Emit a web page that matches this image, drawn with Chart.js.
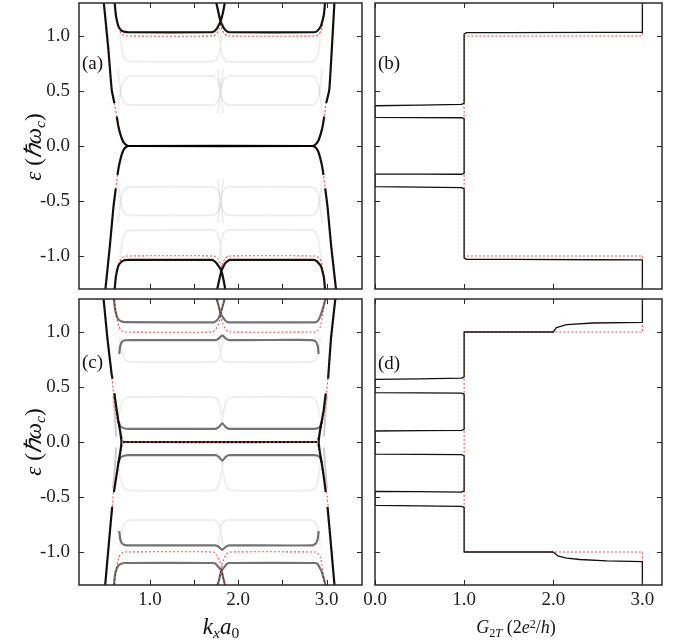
<!DOCTYPE html>
<html>
<head>
<meta charset="utf-8">
<script src="https://cdn.jsdelivr.net/npm/chart.js@4.4.0/dist/chart.umd.min.js"></script>
<style>
body { margin: 0; background: #fff; width: 676px; height: 642px; position: relative; overflow: hidden; font-family: "Liberation Serif", serif; color: #111; }
canvas { position: absolute; left: 0; top: 0; }
.lbl { position: absolute; font-size: 19px; line-height: 1; white-space: nowrap; }
.ttl { position: absolute; white-space: nowrap; line-height: 1; transform: translate(-50%, -50%); }
.rot { transform: translate(-50%, -50%) rotate(-90deg); }
sub { font-size: 68%; vertical-align: -0.3em; line-height: 0; }
sup { font-size: 68%; vertical-align: 0.45em; line-height: 0; }
</style>
</head>
<body>
<canvas id="pa" width="676" height="642"></canvas>
<canvas id="pb" width="676" height="642"></canvas>
<canvas id="pc" width="676" height="642"></canvas>
<canvas id="pd" width="676" height="642"></canvas>

<div class="lbl" style="left:82px;top:53px">(a)</div>
<div class="lbl" style="left:378px;top:53px">(b)</div>
<div class="lbl" style="left:82px;top:352px">(c)</div>
<div class="lbl" style="left:378px;top:353px">(d)</div>
<div class="ttl rot" style="left:33px;top:147px;font-size:23px"><i>ε</i> (<i>ℏω</i><sub><i>c</i></sub>)</div>
<div class="ttl rot" style="left:33px;top:442px;font-size:23px"><i>ε</i> (<i>ℏω</i><sub><i>c</i></sub>)</div>
<div class="ttl" style="left:221px;top:626px;font-size:23px"><i>k</i><sub><i>x</i></sub><i>a</i><sub>0</sub></div>
<div class="ttl" style="left:516px;top:627px;font-size:18px"><i>G</i><sub>2<i>T</i></sub> (2<i>e</i><sup>2</sup>/<i>h</i>)</div>

<script>
// ---- ticks ----
const kTicks = [1.0, 1.5, 2.0, 2.5, 3.0];
const gTicks = [0.0, 1.0, 2.0, 3.0];
const eTicks = [-1.0, -0.5, 0.0, 0.5, 1.0];

// ---- panel (a): bands, [k, energy], null = gap ----
const aEdgeUpper = [[0.477,1.33],[0.53,0.90],[0.57,0.51],[0.60,0.39],null,[0.627,0.267],[0.645,0.18],[0.665,0.115],[0.69,0.055],[0.72,0.018],[0.76,0.0],[2.84,0.0],[2.88,0.018],[2.91,0.055],[2.935,0.115],[2.955,0.18],[2.973,0.267],null,[2.995,0.39],[3.03,0.51],[3.06,0.90],[3.09,1.33]];
const aEdgeLower = [[0.495,-1.33],[0.55,-0.90],[0.59,-0.55],[0.616,-0.385],null,[0.635,-0.264],[0.652,-0.18],[0.672,-0.11],[0.695,-0.05],[0.72,-0.017],[0.76,0.0],[2.84,0.0],[2.88,-0.017],[2.905,-0.05],[2.928,-0.11],[2.948,-0.18],[2.965,-0.264],null,[2.984,-0.385],[3.01,-0.55],[3.05,-0.90],[3.11,-1.33]];
const aBandTop = [[0.60,1.33],[0.615,1.20],[0.627,1.145],[0.645,1.09],[0.665,1.063],[0.69,1.045],[0.72,1.037],[0.76,1.034],[1.70,1.034],[1.73,1.045],[1.76,1.07],[1.78,1.10],[1.80,1.13],[1.83,1.22],[1.855,1.33],null,[1.745,1.33],[1.775,1.22],[1.80,1.13],[1.82,1.10],[1.84,1.07],[1.87,1.045],[1.90,1.034],[2.85,1.034],[2.885,1.04],[2.91,1.06],[2.935,1.09],[2.955,1.145],[2.97,1.20],[2.985,1.33]];
const aBandBot = [[0.60,-1.33],[0.615,-1.20],[0.627,-1.145],[0.645,-1.09],[0.665,-1.065],[0.69,-1.047],[0.72,-1.038],[0.76,-1.036],[1.70,-1.036],[1.73,-1.047],[1.76,-1.07],[1.785,-1.10],[1.81,-1.136],[1.835,-1.22],[1.86,-1.33],null,[1.755,-1.33],[1.785,-1.22],[1.81,-1.136],[1.83,-1.10],[1.85,-1.07],[1.88,-1.047],[1.91,-1.036],[2.85,-1.036],[2.885,-1.045],[2.91,-1.065],[2.935,-1.09],[2.955,-1.145],[2.97,-1.20],[2.985,-1.33]];
const aIdealEdgeUpper = [[0.477,1.33],[0.57,0.51],[0.60,0.39],[0.627,0.267],[0.665,0.115],[0.72,0.018],[0.76,0.0],[2.84,0.0],[2.88,0.018],[2.935,0.115],[2.973,0.267],[2.995,0.39],[3.03,0.51],[3.09,1.33]];
const aIdealEdgeLower = [[0.495,-1.33],[0.59,-0.55],[0.616,-0.385],[0.635,-0.264],[0.672,-0.11],[0.72,-0.017],[0.76,0.0],[2.84,0.0],[2.88,-0.017],[2.928,-0.11],[2.965,-0.264],[2.984,-0.385],[3.01,-0.55],[3.11,-1.33]];
const aIdealTop = [[0.60,1.33],[0.627,1.145],[0.66,1.05],[0.69,1.015],[0.73,1.0],[1.72,1.0],[1.76,1.025],[1.785,1.065],[1.80,1.10],[1.83,1.22],[1.855,1.33],null,[1.745,1.33],[1.775,1.22],[1.80,1.10],[1.815,1.065],[1.84,1.025],[1.88,1.0],[2.87,1.0],[2.91,1.015],[2.94,1.05],[2.96,1.145],[2.985,1.33]];
const aIdealBot = [[0.60,-1.33],[0.627,-1.145],[0.66,-1.05],[0.69,-1.015],[0.73,-1.0],[1.73,-1.0],[1.77,-1.025],[1.795,-1.065],[1.81,-1.10],[1.835,-1.22],[1.86,-1.33],null,[1.755,-1.33],[1.785,-1.22],[1.81,-1.10],[1.825,-1.065],[1.85,-1.025],[1.89,-1.0],[2.87,-1.0],[2.91,-1.015],[2.94,-1.05],[2.96,-1.145],[2.985,-1.33]];
const aFaint37 = [[0.64,0.70],[0.67,0.50],[0.70,0.41],[0.74,0.38],[0.80,0.373],[1.70,0.373],[1.74,0.38],[1.77,0.41],[1.80,0.50],[1.83,0.70],null,[1.77,0.70],[1.80,0.50],[1.83,0.41],[1.86,0.38],[1.90,0.373],[2.82,0.373],[2.86,0.38],[2.89,0.41],[2.92,0.50],[2.95,0.70]];
const aFaint63 = [[0.64,0.30],[0.67,0.50],[0.70,0.59],[0.74,0.625],[0.80,0.636],[1.70,0.636],[1.74,0.625],[1.77,0.59],[1.80,0.50],[1.83,0.30],null,[1.77,0.30],[1.80,0.50],[1.83,0.59],[1.86,0.625],[1.90,0.636],[2.82,0.636],[2.86,0.625],[2.89,0.59],[2.92,0.50],[2.95,0.30]];
const aFaint77 = [[0.66,1.05],[0.69,0.86],[0.72,0.79],[0.76,0.77],[1.72,0.766],[1.76,0.79],[1.79,0.86],[1.82,1.05],null,[1.78,1.05],[1.81,0.86],[1.84,0.79],[1.88,0.766],[2.84,0.766],[2.88,0.79],[2.91,0.86],[2.94,1.05]];
const aFaintM37 = [[0.64,-0.70],[0.67,-0.50],[0.70,-0.41],[0.74,-0.38],[0.80,-0.372],[1.70,-0.372],[1.74,-0.38],[1.77,-0.41],[1.80,-0.50],[1.83,-0.70],null,[1.77,-0.70],[1.80,-0.50],[1.83,-0.41],[1.86,-0.38],[1.90,-0.372],[2.82,-0.372],[2.86,-0.38],[2.89,-0.41],[2.92,-0.50],[2.95,-0.70]];
const aFaintM63 = [[0.64,-0.30],[0.67,-0.50],[0.70,-0.59],[0.74,-0.62],[0.80,-0.63],[1.70,-0.63],[1.74,-0.62],[1.77,-0.59],[1.80,-0.50],[1.83,-0.30],null,[1.77,-0.30],[1.80,-0.50],[1.83,-0.59],[1.86,-0.62],[1.90,-0.63],[2.82,-0.63],[2.86,-0.62],[2.89,-0.59],[2.92,-0.50],[2.95,-0.30]];
const aFaintM77 = [[0.66,-1.05],[0.69,-0.86],[0.72,-0.79],[0.76,-0.768],[1.72,-0.764],[1.76,-0.79],[1.79,-0.86],[1.82,-1.05],null,[1.78,-1.05],[1.81,-0.86],[1.84,-0.79],[1.88,-0.764],[2.84,-0.764],[2.88,-0.79],[2.91,-0.86],[2.94,-1.05]];

// ---- panel (c) ----
const cEdgeLeft = [[0.477,1.31],[0.52,0.95],[0.57,0.61],[0.58,0.575],null,[0.60,0.443],[0.625,0.30],[0.645,0.19],[0.665,0.10],[0.68,0.0],[0.665,-0.10],[0.645,-0.19],[0.625,-0.30],[0.595,-0.455],null,[0.575,-0.59],[0.54,-0.90],[0.495,-1.31]];
const cEdgeRight = [[3.10,1.31],[3.05,0.95],[3.017,0.575],null,[2.99,0.443],[2.965,0.28],[2.945,0.19],[2.925,0.10],[2.91,0.0],[2.925,-0.10],[2.945,-0.19],[2.965,-0.30],[2.99,-0.455],null,[3.01,-0.59],[3.045,-0.90],[3.09,-1.31]];
const cZero = [[0.70,0.0],[2.89,0.0]];
const cBandP12 = [[0.645,0.19],[0.67,0.14],[0.71,0.125],[0.76,0.12],[1.74,0.12],[1.78,0.135],[1.82,0.17],[1.86,0.135],[1.90,0.12],[2.86,0.12],[2.90,0.125],[2.925,0.14],[2.945,0.19]];
const cBandM12 = [[0.645,-0.19],[0.67,-0.14],[0.71,-0.125],[0.76,-0.12],[1.74,-0.12],[1.78,-0.135],[1.82,-0.17],[1.86,-0.135],[1.90,-0.12],[2.86,-0.12],[2.90,-0.125],[2.925,-0.14],[2.945,-0.19]];
const cBandP93 = [[0.655,0.80],[0.665,0.87],[0.685,0.91],[0.72,0.925],[0.78,0.927],[1.74,0.927],[1.78,0.94],[1.82,0.97],[1.86,0.94],[1.90,0.927],[2.84,0.927],[2.88,0.91],[2.90,0.87],[2.91,0.80]];
const cBandM93 = [[0.655,-0.81],[0.665,-0.88],[0.685,-0.92],[0.72,-0.937],[0.78,-0.94],[1.74,-0.94],[1.78,-0.952],[1.82,-0.98],[1.86,-0.952],[1.90,-0.94],[2.84,-0.94],[2.88,-0.92],[2.90,-0.88],[2.91,-0.81]];
const cBandTop = [[0.59,1.33],[0.605,1.22],[0.618,1.17],[0.64,1.12],[0.67,1.10],[0.72,1.09],[1.72,1.088],[1.75,1.10],[1.78,1.13],[1.80,1.17],[1.83,1.25],[1.855,1.33],null,[1.745,1.33],[1.775,1.25],[1.80,1.17],[1.83,1.13],[1.86,1.10],[1.89,1.088],[2.866,1.088],[2.90,1.10],[2.92,1.13],[2.94,1.17],[2.97,1.25],[2.998,1.33]];
const cBandBot = [[0.59,-1.33],[0.605,-1.22],[0.618,-1.17],[0.64,-1.13],[0.67,-1.11],[0.72,-1.10],[1.72,-1.10],[1.75,-1.11],[1.78,-1.14],[1.81,-1.17],[1.835,-1.25],[1.86,-1.33],null,[1.755,-1.33],[1.785,-1.25],[1.81,-1.17],[1.84,-1.14],[1.87,-1.11],[1.90,-1.10],[2.866,-1.10],[2.90,-1.11],[2.92,-1.14],[2.94,-1.17],[2.97,-1.25],[2.998,-1.33]];
const cSide = [[0.585,0.42],[0.60,0.30],[0.612,0.15],[0.62,0.05],null,[0.62,-0.05],[0.612,-0.15],[0.60,-0.30],[0.585,-0.42],null,[3.005,0.42],[2.99,0.30],[2.978,0.15],[2.97,0.05],null,[2.97,-0.05],[2.978,-0.15],[2.99,-0.30],[3.005,-0.42]];
const cIdealEdgeUpper = [[0.477,1.31],[0.57,0.61],[0.59,0.443],[0.61,0.30],[0.627,0.215],[0.67,0.08],[0.72,0.0],[2.87,0.0],[2.92,0.08],[2.963,0.215],[2.98,0.30],[3.0,0.443],[3.017,0.61],[3.10,1.31]];
const cIdealEdgeLower = [[0.495,-1.31],[0.575,-0.61],[0.59,-0.455],[0.646,-0.227],[0.684,-0.045],[0.72,0.0],[2.87,0.0],[2.906,-0.045],[2.944,-0.227],[3.0,-0.455],[3.02,-0.61],[3.09,-1.31]];
const cIdealZero = [[0.72,0.0],[2.87,0.0]];
const cIdealTop = [[0.60,1.33],[0.62,1.16],[0.65,1.05],[0.68,1.012],[0.72,1.0],[1.71,1.0],[1.75,1.03],[1.78,1.08],[1.80,1.14],[1.83,1.25],[1.855,1.33],null,[1.745,1.33],[1.775,1.25],[1.80,1.14],[1.83,1.07],[1.86,1.02],[1.90,1.0],[2.87,1.0],[2.90,1.012],[2.93,1.05],[2.955,1.16],[2.985,1.33]];
const cIdealBot = [[0.60,-1.33],[0.62,-1.16],[0.65,-1.05],[0.68,-1.012],[0.72,-1.0],[1.72,-1.0],[1.76,-1.03],[1.79,-1.08],[1.81,-1.13],[1.835,-1.25],[1.86,-1.33],null,[1.755,-1.33],[1.785,-1.25],[1.81,-1.13],[1.835,-1.07],[1.865,-1.02],[1.90,-1.0],[2.87,-1.0],[2.90,-1.012],[2.93,-1.05],[2.955,-1.16],[2.985,-1.33]];
const cFaint73 = [[0.66,0.95],[0.69,0.80],[0.73,0.74],[0.78,0.727],[1.72,0.727],[1.77,0.74],[1.80,0.80],[1.83,0.95],null,[1.77,0.95],[1.80,0.80],[1.83,0.74],[1.88,0.727],[2.82,0.727],[2.87,0.74],[2.90,0.80],[2.93,0.95]];
const cFaint41 = [[0.64,0.20],[0.67,0.33],[0.71,0.39],[0.76,0.41],[1.72,0.41],[1.76,0.39],[1.80,0.30],[1.83,0.17],null,[1.81,0.17],[1.84,0.30],[1.88,0.39],[1.92,0.41],[2.82,0.41],[2.87,0.39],[2.90,0.33],[2.93,0.20]];
const cFaintM44 = [[0.64,-0.20],[0.67,-0.35],[0.71,-0.42],[0.76,-0.44],[1.72,-0.44],[1.76,-0.42],[1.80,-0.32],[1.83,-0.17],null,[1.81,-0.17],[1.84,-0.32],[1.88,-0.42],[1.92,-0.44],[2.82,-0.44],[2.87,-0.42],[2.90,-0.35],[2.93,-0.20]];
const cFaintM71 = [[0.66,-0.95],[0.69,-0.79],[0.73,-0.725],[0.78,-0.71],[1.72,-0.71],[1.77,-0.725],[1.80,-0.79],[1.83,-0.95],null,[1.77,-0.95],[1.80,-0.79],[1.83,-0.725],[1.88,-0.71],[2.82,-0.71],[2.87,-0.725],[2.90,-0.79],[2.93,-0.95]];

// ---- panels (b), (d): conductance, [G, energy] ----
const bCond = [[3,-1.35],[3,-1.036],[2.5,-1.034],[1.5,-1.031],[1.03,-1.03],[1,-1.02],[1,-0.39],[0.97,-0.379],[0.5,-0.374],[0,-0.37],[0,-0.255],[0.5,-0.256],[0.97,-0.257],[1,-0.248],[1,0.248],[0.97,0.257],[0.5,0.258],[0,0.26],[0,0.366],[0.5,0.372],[0.97,0.379],[1,0.39],[1,1.02],[1.03,1.03],[1.5,1.031],[2.5,1.033],[3,1.034],[3,1.35]];
const bIdeal = [[3,-1.35],[3,-1.0],[1,-1.0],[1,1.0],[3,1.0],[3,1.35]];
const dCond = [[3,-1.35],[3,-1.088],[2.6,-1.08],[2.3,-1.068],[2.15,-1.055],[2.05,-1.035],[2.0,-1.0],[1,-1.0],[1,-0.595],[0.97,-0.585],[0.5,-0.58],[0,-0.576],[0,-0.45],[0.5,-0.452],[0.97,-0.455],[1,-0.445],[1,-0.125],[0.97,-0.115],[0.5,-0.113],[0,-0.11],[0,0.10],[0.5,0.103],[0.97,0.106],[1,0.115],[1,0.435],[0.97,0.445],[0.5,0.446],[0,0.448],[0,0.57],[0.5,0.574],[0.97,0.58],[1,0.59],[1,1.0],[2.0,1.0],[2.035,1.04],[2.15,1.067],[2.44,1.082],[3,1.088],[3,1.35]];
const dIdeal = [[3,-1.35],[3,-1.0],[1,-1.0],[1,1.0],[3,1.0],[3,1.35]];

const BLACK = 'rgba(0,0,0,0.92)';
const DARK = 'rgba(0,0,0,0.55)';
const MID = 'rgba(0,0,0,0.2)';
const FAINT = 'rgba(0,0,0,0.065)';
const RED = '#ff4d4d';

function line(points, color, width, order, tension, dash) {
    return {
        data: points.map(p => p ? { x: p[0], y: p[1] } : { x: null, y: null }),
        showLine: true,
        borderColor: color,
        borderWidth: width,
        borderDash: dash || [],
        pointRadius: 0,
        tension: tension,
        order: order,
        borderCapStyle: 'butt',
        borderJoinStyle: 'round',
        fill: false
    };
}
const bands = (p, c, w, o) => line(p, c, w, o, 0.15);
const redBand = (p, o) => line(p, RED, 1.1, o === undefined ? 1 : o, 0.15, [2, 2]);

// inward ticks and frame, like the original axes
const frameTicks = {
    id: 'frameTicks',
    afterDraw(chart) {
        const { ctx, chartArea: a, scales: { x, y } } = chart;
        ctx.save();
        ctx.strokeStyle = '#2b2b2b';
        ctx.lineWidth = 1;
        ctx.beginPath();
        x.ticks.forEach(t => {
            const px = Math.round(x.getPixelForValue(t.value)) + 0.5;
            ctx.moveTo(px, a.bottom); ctx.lineTo(px, a.bottom - 5);
            ctx.moveTo(px, a.top); ctx.lineTo(px, a.top + 5);
        });
        y.ticks.forEach(t => {
            const py = Math.round(y.getPixelForValue(t.value)) + 0.5;
            ctx.moveTo(a.left, py); ctx.lineTo(a.left + 5, py);
            ctx.moveTo(a.right, py); ctx.lineTo(a.right - 5, py);
        });
        ctx.stroke();
        ctx.lineWidth = 1.5;
        ctx.strokeRect(a.left, a.top, a.right - a.left, a.bottom - a.top);
        ctx.restore();
    }
};

const tickFont = { family: '"Liberation Serif", serif', size: 19 };

function makePanel(id, datasets, p) {
    new Chart(document.getElementById(id), {
        type: 'scatter',
        data: { datasets },
        options: {
            responsive: false,
            animation: false,
            events: [],
            layout: { padding: p.pad },
            plugins: { legend: { display: false }, tooltip: { enabled: false } },
            scales: {
                x: {
                    type: 'linear', min: p.xmin, max: p.xmax, position: 'bottom',
                    grid: { display: false, drawTicks: false }, border: { display: false },
                    ticks: { display: p.xLabels, padding: 4, font: tickFont, color: '#222', maxRotation: 0, autoSkip: false,
                             callback: v => Number.isInteger(v) ? v.toFixed(1) : '' },
                    afterBuildTicks: s => { s.ticks = p.xTicks.map(v => ({ value: v })); },
                    afterFit: s => { s.height = p.xH; s.paddingLeft = 0; s.paddingRight = 0; }
                },
                y: {
                    type: 'linear', min: -1.3, max: 1.3, position: 'left',
                    grid: { display: false, drawTicks: false }, border: { display: false },
                    ticks: { display: p.yLabels, padding: 9, font: tickFont, color: '#222', autoSkip: false,
                             callback: v => v.toFixed(1) },
                    afterBuildTicks: s => { s.ticks = eTicks.map(v => ({ value: v })); },
                    afterFit: s => { s.width = p.yW; s.paddingTop = 0; s.paddingBottom = 0; }
                }
            }
        },
        plugins: [frameTicks]
    });
}

makePanel('pa', [
    bands(aEdgeUpper, BLACK, 2.2, 0), bands(aEdgeLower, BLACK, 2.2, 0),
    bands(aBandTop, BLACK, 2.2, 0), bands(aBandBot, BLACK, 2.2, 0),
    redBand(aIdealEdgeUpper), redBand(aIdealEdgeLower), redBand(aIdealTop), redBand(aIdealBot),
    bands(aFaint37, FAINT, 2, 3), bands(aFaint63, FAINT, 2, 3), bands(aFaint77, FAINT, 2, 3),
    bands(aFaintM37, FAINT, 2, 3), bands(aFaintM63, FAINT, 2, 3), bands(aFaintM77, FAINT, 2, 3)
], { pad: { left: 0, top: 3, right: 314, bottom: 353 }, xmin: 0.2, xmax: 3.4, xTicks: kTicks, xLabels: false, xH: 0, yLabels: true, yW: 79 });

makePanel('pb', [
    line(bCond, '#111', 1.3, 0, 0), line(bIdeal, RED, 1.1, 1, 0, [2, 2])
], { pad: { left: 375, top: 3, right: 14, bottom: 353 }, xmin: 0, xmax: 3.22, xTicks: gTicks, xLabels: false, xH: 0, yLabels: false, yW: 0 });

makePanel('pc', [
    bands(cEdgeLeft, BLACK, 2.2, 0), bands(cEdgeRight, BLACK, 2.2, 0), bands(cZero, BLACK, 2.2, 0),
    redBand(cIdealZero, -1),
    bands(cBandTop, DARK, 2.2, 0), bands(cBandBot, DARK, 2.2, 0),
    bands(cBandP12, DARK, 2.2, 0), bands(cBandM12, DARK, 2.2, 0),
    bands(cBandP93, DARK, 2.2, 0), bands(cBandM93, DARK, 2.2, 0),
    redBand(cIdealEdgeUpper), redBand(cIdealEdgeLower), redBand(cIdealTop), redBand(cIdealBot),
    bands(cSide, MID, 2, 2),
    bands(cFaint73, FAINT, 2, 3), bands(cFaint41, FAINT, 2, 3), bands(cFaintM44, FAINT, 2, 3), bands(cFaintM71, FAINT, 2, 3)
], { pad: { left: 0, top: 299, right: 314, bottom: 0 }, xmin: 0.2, xmax: 3.4, xTicks: kTicks, xLabels: true, xH: 57, yLabels: true, yW: 79 });

makePanel('pd', [
    line(dCond, '#111', 1.3, 0, 0), line(dIdeal, RED, 1.1, 1, 0, [2, 2])
], { pad: { left: 375, top: 299, right: 14, bottom: 0 }, xmin: 0, xmax: 3.22, xTicks: gTicks, xLabels: true, xH: 57, yLabels: false, yW: 0 });
</script>
</body>
</html>
